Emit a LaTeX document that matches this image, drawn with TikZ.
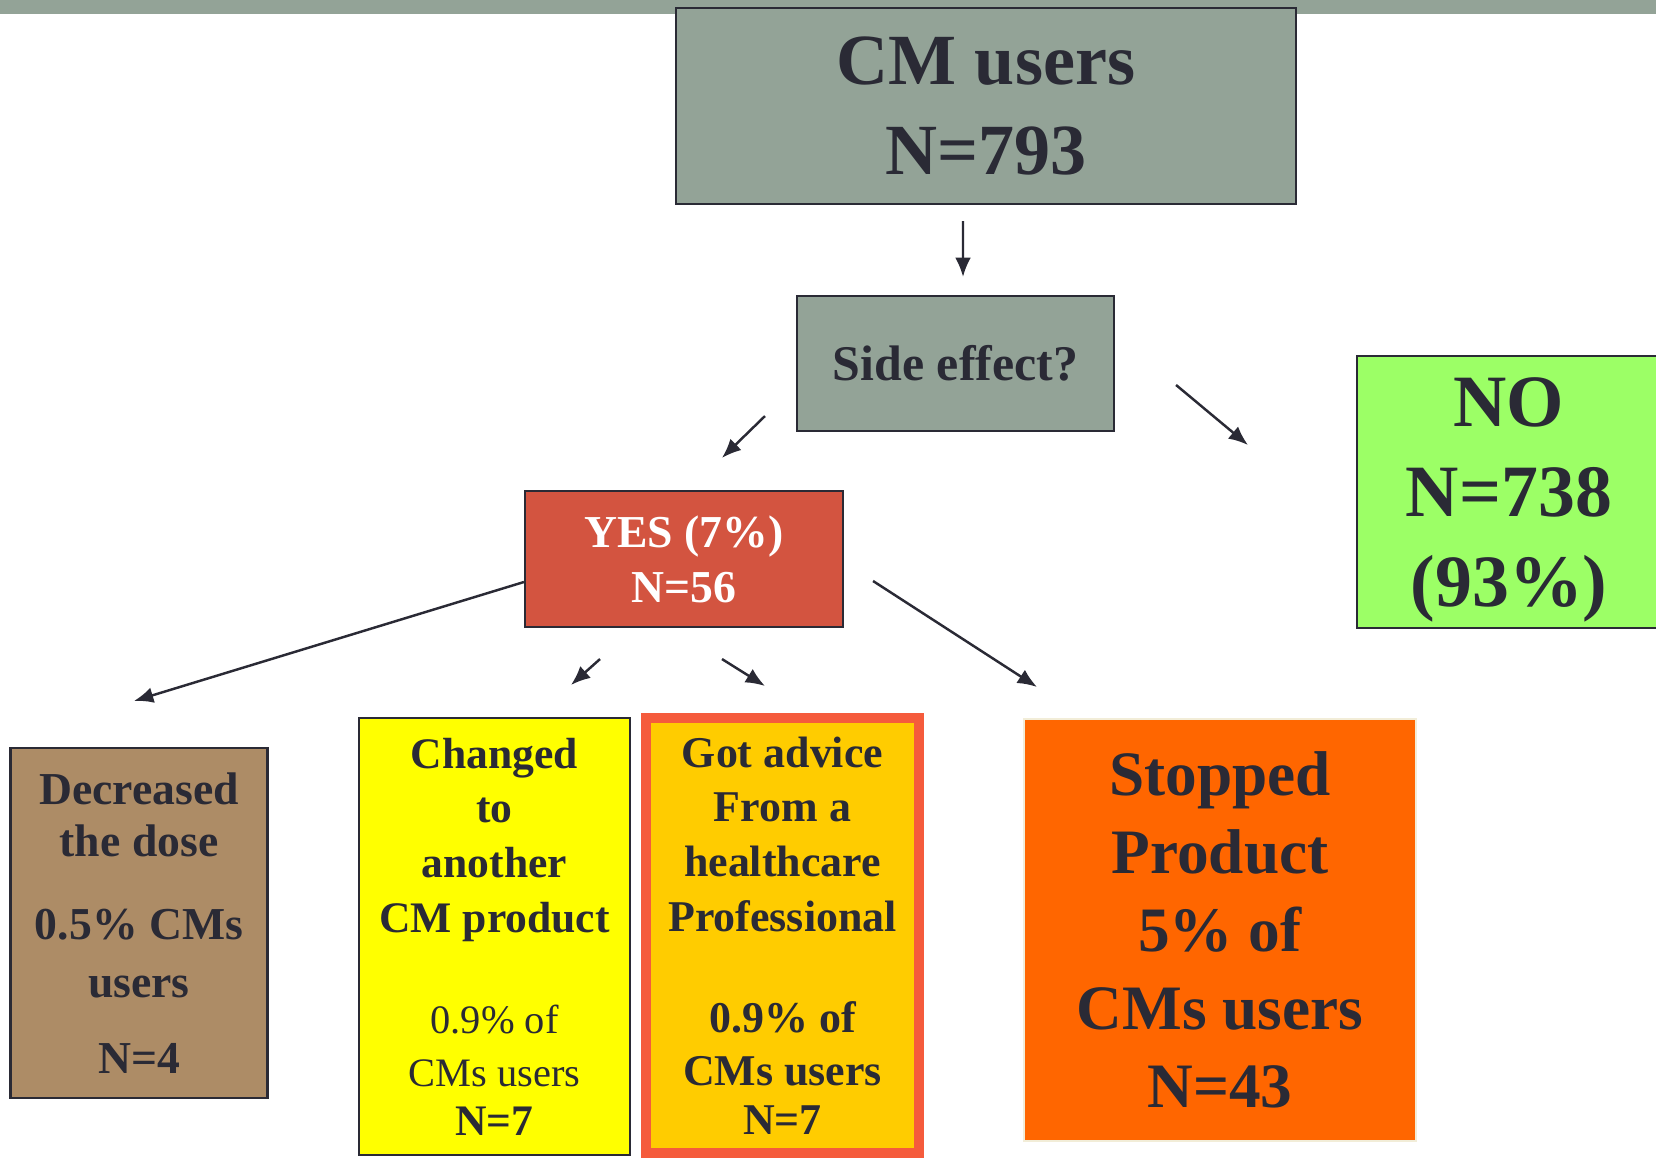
\documentclass[tikz,border=0pt]{standalone}
\usepackage{fontspec}
\setmainfont{Liberation Serif}
\usetikzlibrary{arrows.meta,positioning}

\definecolor{band}{RGB}{147,163,151}
\definecolor{ink}{RGB}{42,42,53}
\definecolor{yesred}{RGB}{211,84,64}
\definecolor{nogreen}{RGB}{156,255,102}
\definecolor{tan}{RGB}{173,140,102}
\definecolor{lemon}{RGB}{255,255,0}
\definecolor{gold}{RGB}{255,204,0}
\definecolor{advline}{RGB}{245,91,60}
\definecolor{stoporange}{RGB}{255,102,0}
\definecolor{cream}{RGB}{242,237,216}

\begin{document}
\begin{tikzpicture}[
  x=0.1mm, y=-0.1mm,
  box/.style={draw=ink, line width=0.6pt, align=center, inner sep=0pt, text=ink},
  arr/.style={-{Latex[length=5.5pt,width=4.5pt]}, line width=0.7pt, draw=ink}
]
\useasboundingbox (0,0) rectangle (1656,1159);
\fill[band] (0,0) rectangle (1656,14);

\node[box, fill=band, minimum width=62mm, minimum height=19.6mm,
  font=\fontsize{20.5}{25.6}\selectfont\bfseries] (top) at (986,106) {CM users\\N=793};
\node[box, fill=band, minimum width=31.7mm, minimum height=13.5mm,
  font=\fontsize{14.2}{17}\selectfont\bfseries] (side) at (955.5,363.5) {Side effect?};
\node[box, fill=yesred, text=white, minimum width=31.8mm, minimum height=13.6mm,
  font=\fontsize{13}{15.6}\selectfont\bfseries] (yes) at (684,559) {YES (7\%)\\N=56};
\node[box, fill=nogreen, minimum width=30.4mm, minimum height=27.2mm, text depth=0pt,
  font=\fontsize{21}{25.6}\selectfont\bfseries] (no) at (1509,492) {NO\\N=738\\(93\%)};

\node[box, fill=tan, minimum width=25.7mm, minimum height=35mm,
  font=\fontsize{13}{14.8}\selectfont\bfseries] (dec) at (139,923)
  {Decreased\\the dose\\[9pt]0.5\% CMs\\[1.5pt]users\\[7pt]N=4};
\node[box, fill=lemon, minimum width=27.1mm, minimum height=43.7mm,
  font=\fontsize{12.4}{15.6}\selectfont\bfseries] (chg) at (494.5,936.5)
  {Changed\\to\\another\\CM product\\[13pt]{\fontsize{11.5}{15.6}\selectfont\mdseries 0.9\% of}\\[-0.5pt]{\fontsize{11.5}{15.6}\selectfont\mdseries CMs users}\\[-1.6pt]N=7};
\node[box, draw=advline, line width=1mm, fill=gold, minimum width=27.3mm, minimum height=43.5mm,
  font=\fontsize{12.5}{15.6}\selectfont\bfseries] (adv) at (782.5,935.5)
  {Got advice\\From a\\healthcare\\Professional\\[13pt]0.9\% of\\[-0.5pt]CMs users\\[-1.6pt]N=7};
\node[box, draw=cream, fill=stoporange, minimum width=39.2mm, minimum height=42.2mm,
  font=\fontsize{18}{22.2}\selectfont\bfseries] (stop) at (1220,930)
  {Stopped\\Product\\5\% of\\CMs users\\N=43};

\draw[arr] ([shift={(-23,16)}]top.south) -- ([shift={(7.5,-18)}]side.north);
\draw[arr] ([shift={(-31,-16)}]side.south west) -- ([shift={(198,-32)}]yes.north west);
\draw[arr] ([shift={(61,21.5)}]side.east) -- ([shift={(-108,-47)}]no.west);
\draw[arr] ([shift={(0,23)}]yes.west) -- ([shift={(-5,-46)}]dec.north);
\draw[arr] ([shift={(-84,31)}]yes.south) -- ([shift={(76.5,-32)}]chg.north);
\draw[arr] ([shift={(38,31)}]yes.south) -- ([shift={(-17.5,-27)}]adv.north);
\draw[arr] ([shift={(29,22)}]yes.east) -- ([shift={(14,-31)}]stop.north west);
\end{tikzpicture}
\end{document}
